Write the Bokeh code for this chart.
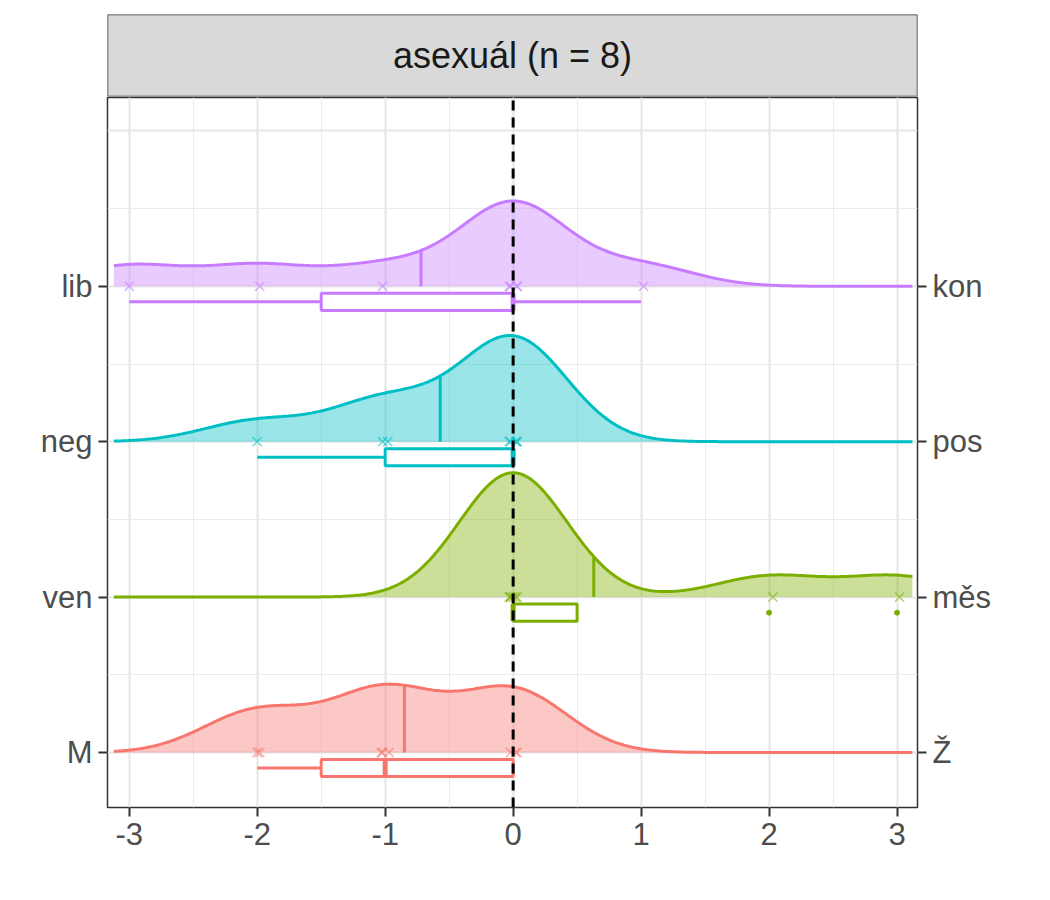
import numpy as np
from bokeh.core.properties import value
from bokeh.embed import file_html
from bokeh.layouts import column
from bokeh.models import ColumnDataSource, FixedTicker, LinearAxis, Range1d
from bokeh.plotting import figure
from bokeh.resources import INLINE

# rows bottom -> top
left_labels = ["M", "ven", "neg", "lib"]
right_labels = ["Ž", "měs", "pos", "kon"]
colors = ["#F8766D", "#7CAE00", "#00BFC4", "#C77CFF"]

responses = [
    [-2, -2, -1, -1, -1, 0, 0, 0],   # M / Ž
    [0, 0, 0, 0, 0, 0, 2, 3],        # ven / měs
    [-2, -1, -1, 0, 0, 0, 0, 0],     # neg / pos
    [-3, -2, -1, 0, 0, 0, 0, 1],     # lib / kon
]
jitter = [0.0, 0.02, -0.02, 0.03, -0.03, -0.02, 0.03, 0.02]
means = [-0.85, 0.63, -0.57, -0.72]
box_q1 = [-1.5, 0.0, -1.0, -1.5]
box_med = [-1.0, 0.0, 0.0, 0.0]
box_q3 = [0.0, 0.5, 0.0, 0.0]
whisk_lo = [-2.0, 0.0, -2.0, -3.0]
whisk_hi = [0.0, 0.5, 0.0, 1.0]
outliers = [[], [2, 3], [], []]

title = "asexuál (n = 8)"
bw = 0.42
grid = np.linspace(-3.12, 3.12, 400)


def kde(pts, xs):
    pts = np.asarray(pts, float)
    z = (xs[:, None] - pts[None, :]) / bw
    return np.exp(-0.5 * z ** 2).sum(axis=1) / (len(pts) * bw * np.sqrt(2 * np.pi))


dens = [kde(r, grid) for r in responses]
scale = 0.8 / max(d.max() for d in dens)

FONT = "Liberation Sans"
FW = 810

p = figure(frame_width=FW, frame_height=710, x_range=Range1d(-3.17, 3.16), y_range=Range1d(0.646, 5.215),
           output_backend="svg", toolbar_location=None,
           min_border_left=107, min_border_right=113, min_border_top=0, min_border_bottom=10)
p.outline_line_color = "#333333"
p.outline_line_width = 1.5
p.background_fill_color = "white"

p.xaxis.ticker = FixedTicker(ticks=[-3, -2, -1, 0, 1, 2, 3], minor_ticks=list(np.arange(-3.5, 3.6, 0.5)))
p.yaxis.ticker = FixedTicker(ticks=[1, 2, 3, 4])
p.yaxis.major_label_overrides = {i + 1: lab for i, lab in enumerate(left_labels)}
p.xaxis.major_label_overrides = {-3: "-3", -2: "-2", -1: "-1"}
p.xgrid.grid_line_color = "#E5E5E5"
p.xgrid.grid_line_width = 2
p.xgrid.minor_grid_line_color = "#EBEBEB"
p.xgrid.minor_grid_line_width = 1
p.ygrid.ticker = FixedTicker(ticks=[1, 2, 3, 4, 5], minor_ticks=[1.5, 2.5, 3.5, 4.5])
p.ygrid.grid_line_color = "#E5E5E5"
p.ygrid.grid_line_width = 2
p.ygrid.minor_grid_line_color = "#EBEBEB"
p.ygrid.minor_grid_line_width = 1.2

right = LinearAxis(ticker=FixedTicker(ticks=[1, 2, 3, 4]),
                   major_label_overrides={i + 1: lab for i, lab in enumerate(right_labels)})
p.add_layout(right, "right")

for ax in p.xaxis + p.yaxis + [right]:
    ax.axis_line_color = None
    ax.major_tick_line_color = "#333333"
    ax.major_tick_line_width = 2
    ax.major_tick_out = 9
    ax.major_tick_in = 0
    ax.minor_tick_line_color = None
    ax.major_label_text_font = FONT
    ax.major_label_text_font_size = "31px"
    ax.major_label_text_color = "#4D4D4D"
    ax.major_label_standoff = 6

for i in range(4):
    base = i + 1
    c = colors[i]
    top = base + dens[i] * scale
    src = ColumnDataSource(dict(x=grid, y1=np.full_like(grid, base), y2=top))
    p.varea(x="x", y1="y1", y2="y2", source=src, fill_color=c, fill_alpha=0.4)
    p.line(x="x", y="y2", source=src, line_color=c, line_width=3)
    # mean line
    mtop = base + kde(responses[i], np.array([means[i]]))[0] * scale
    p.segment(x0=[means[i]], y0=[base], x1=[means[i]], y1=[mtop], line_color=c, line_width=3)
    # points
    px = np.array(responses[i], float) + np.array(jitter)
    p.scatter(x=px, y=[base] * len(px), marker="x", size=13, line_color=c, line_alpha=0.55, line_width=1.6)
    # boxplot
    by = base - 0.1
    p.segment(x0=[whisk_lo[i], box_q3[i]], y0=[by, by], x1=[box_q1[i], whisk_hi[i]], y1=[by, by],
              line_color=c, line_width=3)
    p.quad(left=[box_q1[i]], right=[box_q3[i]], bottom=[by - 0.055], top=[by + 0.055],
           fill_color="white", line_color=c, line_width=3)
    p.segment(x0=[box_med[i]], y0=[by - 0.055], x1=[box_med[i]], y1=[by + 0.055],
              line_color=c, line_width=5)
    if outliers[i]:
        p.scatter(x=outliers[i], y=[by] * len(outliers[i]), size=5, color=c)

p.segment(x0=[0], y0=[0.646], x1=[0], y1=[5.215], line_color="black", line_width=3, line_dash="10 7")

strip = figure(frame_width=FW, frame_height=82, x_range=Range1d(0, 1), y_range=Range1d(0, 1),
               output_backend="svg", toolbar_location=None,
               min_border_left=107, min_border_right=113, min_border_top=14, min_border_bottom=1)
strip.axis.visible = False
strip.grid.visible = False
strip.outline_line_color = None
strip.quad(left=[0], right=[1], bottom=[0], top=[1], fill_color="#D9D9D9",
           line_color="#333333", line_width=1.5)
strip.text(x=[0.5], y=[0.5], text=[title], text_align="center", text_baseline="middle",
           text_font=value(FONT), text_font_size="36px", text_color="#1A1A1A")

layout = column(strip, p, spacing=0)
open("out.html", "w").write(file_html(layout, INLINE))
